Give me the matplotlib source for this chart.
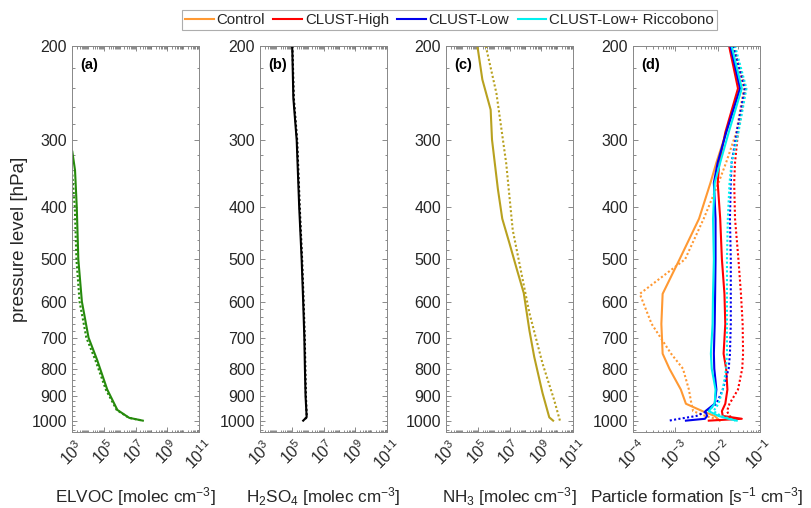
import numpy as np
import matplotlib
matplotlib.use("Agg")
import matplotlib.pyplot as plt
from matplotlib.ticker import FixedLocator, LogLocator, NullFormatter, LogFormatterMathtext

plt.rcParams.update({
    "font.family": "Liberation Sans",
    "mathtext.fontset": "custom",
    "mathtext.rm": "Liberation Sans",
    "mathtext.it": "Liberation Sans:italic",
    "mathtext.bf": "Liberation Sans:bold",
    "mathtext.default": "regular",
})

# ---- (a) ELVOC ----
p_elvoc = [315, 341, 400, 500, 600, 700, 770, 875, 955, 988, 1000]
elvoc_ctl = [1.05e3, 1.55e3, 2.0e3, 2.5e3, 4.2e3, 1.1e4, 3.8e4, 1.66e5, 7.2e5, 4.0e6, 2.9e7]
p_elvoc_dot = [341, 400, 500, 600, 700, 770, 875, 955, 988, 1000]
elvoc_dot = [1.0e3, 1.5e3, 1.9e3, 3.0e3, 8.0e3, 2.9e4, 1.35e5, 6.5e5, 3.8e6, 2.8e7]

# ---- (b) H2SO4 ----
p_h2so4 = [200, 250, 300, 400, 500, 600, 700, 800, 900, 985, 1000]
h2so4_ctl = [1.07e5, 1.26e5, 2.05e5, 2.95e5, 4.2e5, 5.25e5, 6.2e5, 6.75e5, 7.4e5, 8.7e5, 5.25e5]
h2so4_dot = [1.1e5, 1.35e5, 2.2e5, 3.2e5, 4.5e5, 5.6e5, 6.6e5, 7.2e5, 7.8e5, 8.9e5, 5.5e5]

# ---- (c) NH3 ----
p_nh3 = [200, 231, 263, 299, 370, 420, 467, 522, 578, 679, 760, 888, 986, 1000]
nh3_ctl = [9.5e4, 1.95e5, 6.5e5, 7.9e5, 1.86e6, 3.5e6, 1.0e7, 2.9e7, 7.9e7, 1.8e8, 3.6e8, 1.2e9, 3.2e9, 5.6e9]
p_nh3_dot = [200, 245, 331, 441, 546, 630, 782, 915, 1000]
nh3_dot = [3.2e5, 1.5e6, 6.2e6, 1.6e7, 6.8e7, 1.8e8, 1.2e9, 6.5e9, 1.5e10]

# ---- (d) particle formation, log10 of rate [s-1 cm-3] ----
p_pf = [200, 240, 290, 330, 360, 420, 500, 580, 660, 750, 800, 875, 930, 960, 980, 992, 1000]
runs = ["Control", "CLUST-High", "CLUST-Low", "CLUST-Low+ Riccobono"]
run_colors = ["#ff9933", "#ff0000", "#0000ee", "#00f0f0"]
lg_solid = [
    [-1.72, -1.48, -1.80, -2.03, -2.17, -2.44, -2.90, -3.30, -3.33, -3.30, -3.14, -2.87, -2.75, -2.36, -2.07, -2.00, -1.95],
    [-1.73, -1.52, -1.82, -1.96, -2.00, -1.94, -1.90, -1.84, -1.82, -1.86, -1.80, -1.77, -1.82, -1.90, -1.88, -1.43, -2.21],
    [-1.70, -1.47, -1.80, -2.00, -2.09, -2.05, -2.05, -2.06, -2.07, -2.09, -2.08, -2.03, -2.07, -2.29, -2.25, -2.30, -2.75],
    [-1.67, -1.43, -1.74, -1.94, -2.07, -2.11, -2.09, -2.11, -2.12, -2.16, -2.14, -2.05, -2.07, -2.21, -1.98, -1.75, -1.55],
]
lg_dot = [
    [-1.66, -1.38, -1.56, -1.80, -1.98, -2.33, -2.77, -3.84, -3.56, -3.10, -2.82, -2.68, -2.62, -2.58, -2.29, -2.05, -1.95],
    [-1.63, -1.34, -1.52, -1.59, -1.61, -1.59, -1.51, -1.45, -1.41, -1.40, -1.42, -1.52, -1.72, -1.78, -1.72, -1.62, -1.59],
    [-1.63, -1.36, -1.55, -1.67, -1.69, -1.71, -1.69, -1.69, -1.69, -1.71, -1.74, -1.88, -2.03, -2.25, -2.50, -2.90, -3.15],
    [-1.59, -1.32, -1.51, -1.67, -1.72, -1.76, -1.78, -1.78, -1.78, -1.78, -1.80, -1.88, -1.98, -2.10, -1.92, -1.70, -1.58],
]

p_ticks = [200, 300, 400, 500, 600, 700, 800, 900, 1000]
conc_ticks = [1e3, 1e5, 1e7, 1e9, 1e11]
pf_ticks = [1e-4, 1e-3, 1e-2, 1e-1]

W, H = 811, 508
fig = plt.figure(figsize=(W / 100, H / 100), dpi=100)

lefts = [72, 260, 446, 633]
top, bot, width = 46, 432, 127
axs = [fig.add_axes([l / W, 1 - bot / H, width / W, (bot - top) / H]) for l in lefts]

DOT = (0, (1, 1.1))
LW = 1.5
ink = "#262626"


def style(ax, xlim, xticks, letter, xlabel):
    ax.set_xscale("log")
    ax.set_yscale("log")
    ax.set_xlim(*xlim)
    ax.set_ylim(1050, 200)
    ax.set_yticks(p_ticks)
    ax.set_yticklabels([str(v) for v in p_ticks])
    ax.yaxis.set_minor_locator(FixedLocator([v for v in range(220, 1050, 20) if v % 100]))
    ax.yaxis.set_minor_formatter(NullFormatter())
    ax.set_xticks(xticks)
    ax.xaxis.set_major_formatter(LogFormatterMathtext())
    ax.xaxis.set_minor_locator(LogLocator(base=10, subs=np.arange(1, 10), numticks=100))
    ax.xaxis.set_minor_formatter(NullFormatter())
    ax.tick_params(which="both", direction="in", top=True, right=True,
                   color="#777777", labelcolor=ink, labelsize=11.5, width=0.6)
    ax.tick_params(which="major", length=3.5)
    ax.tick_params(which="minor", length=1.8)
    for lab in ax.get_xticklabels():
        lab.set_rotation(45)
    for s in ax.spines.values():
        s.set_color("#888888")
        s.set_linewidth(0.7)
    ax.text(0.064, 0.97, letter, transform=ax.transAxes, ha="left", va="top",
            fontsize=10.5, fontweight="bold", color="black")
    pos = ax.get_position()
    fig.text(pos.x0 + pos.width / 2, 1 - 502 / H, xlabel, ha="center", va="baseline",
             fontsize=12.3, color=ink)


ax = axs[0]
ax.plot(elvoc_ctl, p_elvoc, color="#268a0c", lw=LW)
ax.plot(elvoc_dot, p_elvoc_dot, color="#268a0c", lw=LW, ls=DOT)
style(ax, (1e3, 1e11), conc_ticks, "(a)", "ELVOC [molec cm$^{-3}$]")

ax = axs[1]
ax.plot(h2so4_ctl, p_h2so4, color="black", lw=LW)
ax.plot(h2so4_dot, p_h2so4, color="black", lw=LW, ls=DOT)
style(ax, (1e3, 1e11), conc_ticks, "(b)", "H$_2$SO$_4$ [molec cm$^{-3}$]")

ax = axs[2]
ax.plot(nh3_ctl, p_nh3, color="#b8a11f", lw=LW)
ax.plot(nh3_dot, p_nh3_dot, color="#b8a11f", lw=LW, ls=DOT)
style(ax, (1e3, 1e11), conc_ticks, "(c)", "NH$_3$ [molec cm$^{-3}$]")

ax = axs[3]
handles = []
for name, c, s_, d_ in zip(runs, run_colors, lg_solid, lg_dot):
    h, = ax.plot(10 ** np.array(s_), p_pf, color=c, lw=LW, label=name)
    ax.plot(10 ** np.array(d_), p_pf, color=c, lw=LW, ls=DOT)
    handles.append(h)
style(ax, (1e-4, 1e-1), pf_ticks, "(d)", "Particle formation [s$^{-1}$ cm$^{-3}$]")

fig.text(20 / W, 1 - 239 / H, "pressure level [hPa]", rotation=90, ha="center", va="center",
         fontsize=13.5, color=ink)

leg = fig.legend(handles, runs, loc="upper left", bbox_to_anchor=(182 / W, 1 - 10 / H),
                 ncol=4, fontsize=10.8, frameon=True, fancybox=False, handlelength=1.9,
                 handletextpad=0.2, columnspacing=0.55, borderpad=0.2, borderaxespad=0)
leg.get_frame().set_edgecolor("#999999")
leg.get_frame().set_linewidth(0.8)
for t in leg.get_texts():
    t.set_color(ink)

fig.savefig("out.png", dpi=100)
